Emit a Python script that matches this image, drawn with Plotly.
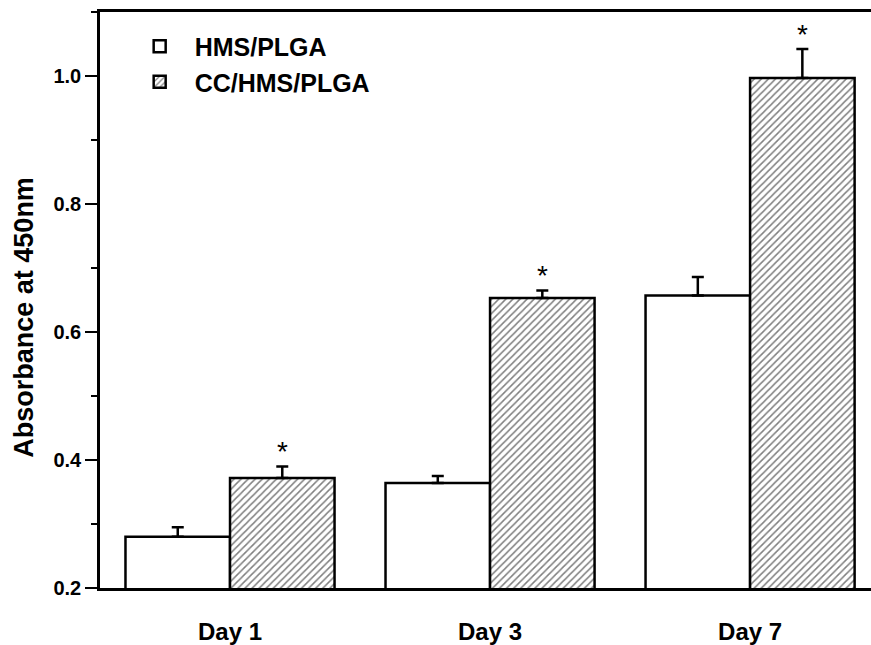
import plotly.graph_objects as go

days = ["Day 1", "Day 3", "Day 7"]
hms_plga = [0.280, 0.364, 0.657]
hms_plga_err = [0.015, 0.011, 0.029]
cc_hms_plga = [0.372, 0.653, 0.997]
cc_hms_plga_err = [0.018, 0.012, 0.045]
significance = ["*", "*", "*"]
y_ticks = [0.2, 0.4, 0.6, 0.8, 1.0]

FONT = "Liberation Sans, Arial, Helvetica, sans-serif"

fig = go.Figure()
fig.add_trace(go.Bar(
    name="<b>HMS/PLGA</b>", x=days, y=hms_plga,
    marker=dict(color="white", line=dict(color="black", width=2.5)),
    error_y=dict(type="data", array=hms_plga_err, arrayminus=[0] * 3, symmetric=False,
                 color="black", thickness=2.5, width=6),
))
fig.add_trace(go.Bar(
    name="<b>CC/HMS/PLGA</b>", x=days, y=cc_hms_plga,
    marker=dict(color="white", line=dict(color="black", width=2.5),
                pattern=dict(shape="/", fgcolor="black", bgcolor="white", size=5, solidity=0.3)),
    error_y=dict(type="data", array=cc_hms_plga_err, arrayminus=[0] * 3, symmetric=False,
                 color="black", thickness=2.5, width=6),
))

for d, v, e, s in zip(days, cc_hms_plga, cc_hms_plga_err, significance):
    fig.add_annotation(x=d, y=v + e, text=s, showarrow=False, xshift=52, yshift=15,
                       yanchor="middle", font=dict(family=FONT, size=28, color="black"))

fig.add_annotation(xref="paper", yref="paper", x=-0.098, y=0.47, text="<b>Absorbance at 450nm</b>",
                   textangle=-90, showarrow=False, xanchor="center", yanchor="middle",
                   font=dict(family=FONT, size=27, color="black"))

fig.update_layout(
    width=871, height=645,
    margin=dict(l=100, r=0, t=12, b=52),
    paper_bgcolor="white", plot_bgcolor="white",
    barmode="group", bargap=0.196, bargroupgap=0,
    showlegend=True,
    legend=dict(x=0.032, y=0.98, xanchor="left", yanchor="top",
                font=dict(family=FONT, size=25, color="black"),
                bgcolor="rgba(0,0,0,0)", itemwidth=60, tracegroupgap=0),
    xaxis=dict(range=[-0.5, 2.465], showline=True, linecolor="black", linewidth=2.5,
               mirror=True, ticks="", showgrid=False, zeroline=False,
               tickfont=dict(family=FONT, size=24, color="black"),
               ticklabelstandoff=20,
               tickvals=days, ticktext=["<b>%s</b>" % d for d in days]),
    yaxis=dict(range=[0.2, 1.1], showline=True, linecolor="black", linewidth=2.5,
               ticks="outside", ticklen=12, tickwidth=2, tickcolor="black",
               tickvals=y_ticks, ticktext=["<b>%.1f</b>" % t for t in y_ticks],
               minor=dict(dtick=0.1, ticks="outside", ticklen=6, tickwidth=2, tickcolor="black", showgrid=False),
               showgrid=False, zeroline=False,
               tickfont=dict(family=FONT, size=20, color="black")),
)

fig.write_html("out.html", config={"displayModeBar": False},
               post_script="document.body.style.margin='0';")
